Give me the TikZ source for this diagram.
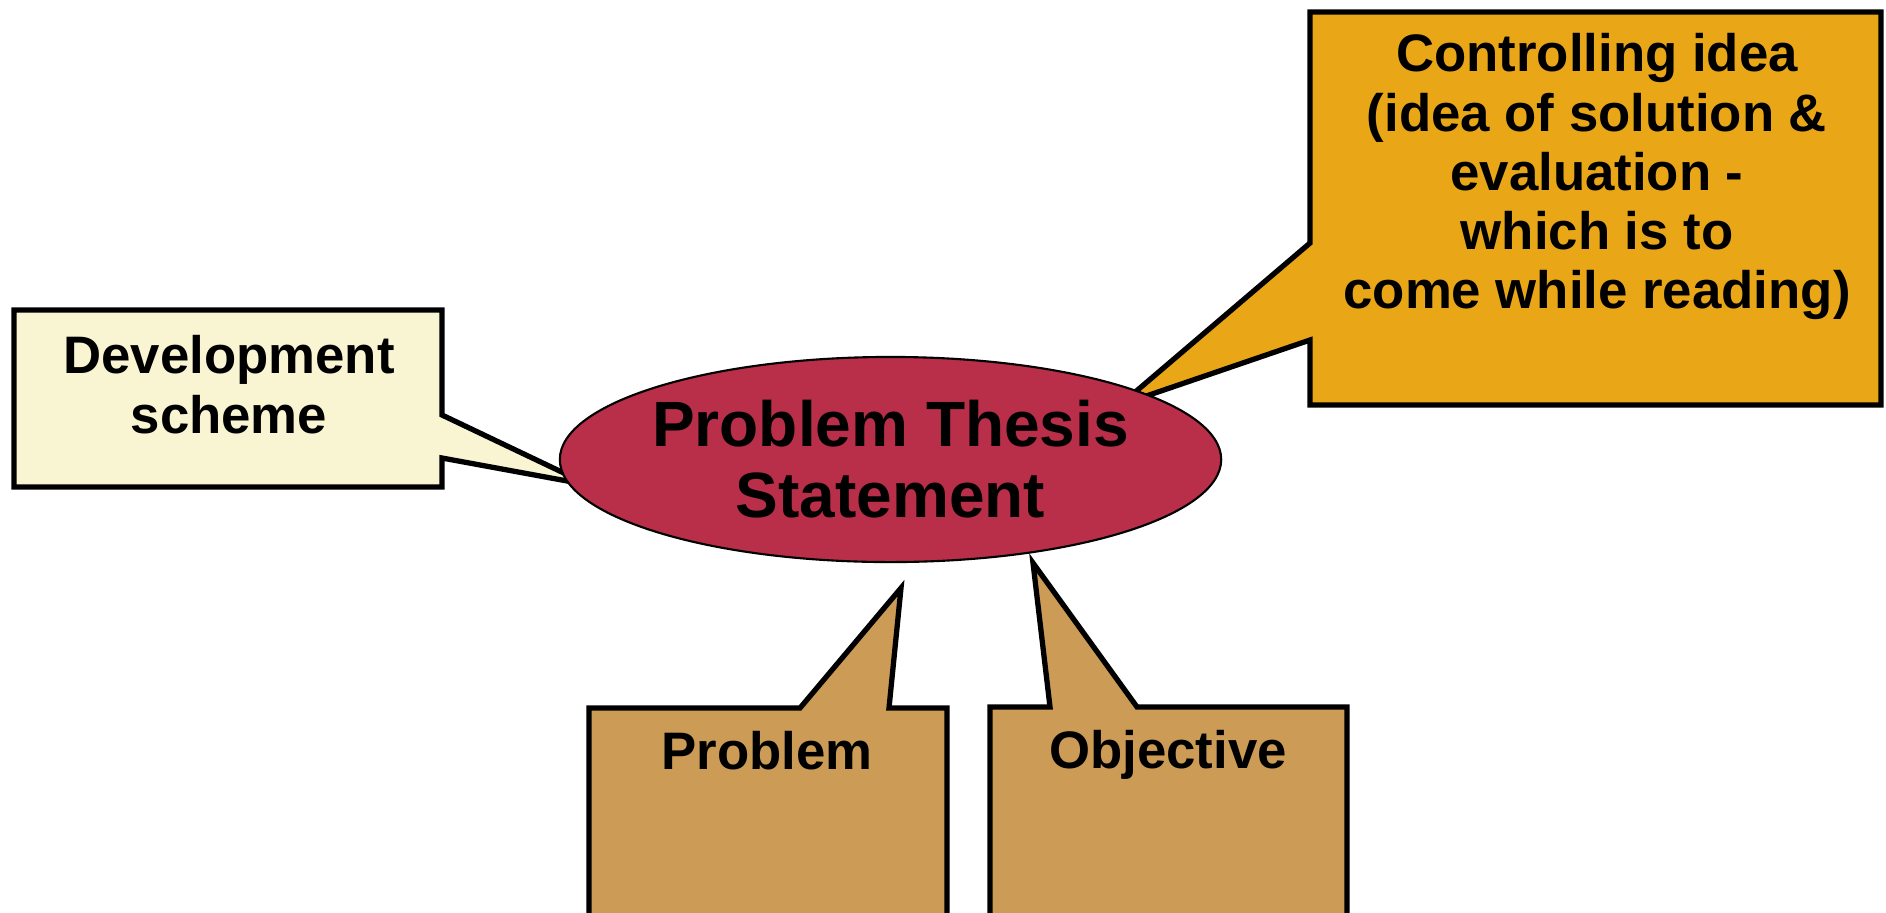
\documentclass[tikz,border=0pt]{standalone}
\usepackage{xcolor}
\usepackage{fontspec}
\setmainfont{Liberation Sans}
\usepackage{tikz}
\usetikzlibrary{shapes.geometric,positioning,calc}
\definecolor{thesisred}{RGB}{185,46,72}
\definecolor{schemecream}{RGB}{249,245,210}
\definecolor{ideagold}{RGB}{233,167,24}
\definecolor{partbrown}{RGB}{204,155,86}

\tikzset{
    callout/.style={draw=black, line width=1.5pt, miter limit=10},
    calltext/.style={font=\fontsize{15}{16.8}\selectfont\bfseries, align=center, inner sep=0pt},
}

\begin{document}
\begin{tikzpicture}[x=0.01cm, y=-0.01cm]
    \clip (0,0) rectangle (1886,912);

    % Development scheme callout
    \draw[callout, fill=schemecream] (14,310) -- (442,310) -- (442,415) -- (589,485)
        -- (442,458) -- (442,487) -- (14,487) -- cycle;
    \node[calltext, anchor=north] (scheme) at (229,335) {Development\\scheme};

    % Controlling idea callout
    \draw[callout, fill=ideagold] (1310,12) -- (1881,12) -- (1881,405) -- (1310,405)
        -- (1310,340) -- (1120,405) -- (1310,243) -- cycle;
    \node[calltext, anchor=north] (idea) at (1597,33)
        {Controlling idea\\(idea of solution \&\\evaluation -\\which is to\\come while reading)};

    % Problem callout
    \draw[callout, fill=partbrown] (589,940) -- (589,708) -- (800,708) -- (901,588)
        -- (889,708) -- (947,708) -- (947,940) -- cycle;
    \node[calltext, anchor=base] (problem) at (767,769) {Problem};

    % Objective callout
    \draw[callout, fill=partbrown] (990,940) -- (990,707) -- (1050,707) -- (1033,563)
        -- (1137,707) -- (1347,707) -- (1347,940) -- cycle;
    \node[calltext, anchor=base] (objective) at (1168,768) {Objective};

    % Thesis ellipse (on top of the pointers)
    \node[ellipse, draw=black, line width=0.6pt, fill=thesisred, inner xsep=-3mm, inner ysep=0pt,
          minimum width=6.61cm, minimum height=2.05cm, align=center,
          font=\fontsize{18.2}{20.2}\selectfont\bfseries] (thesis) at (890.5,459.5)
        {Problem Thesis\\Statement};
\end{tikzpicture}
\end{document}
